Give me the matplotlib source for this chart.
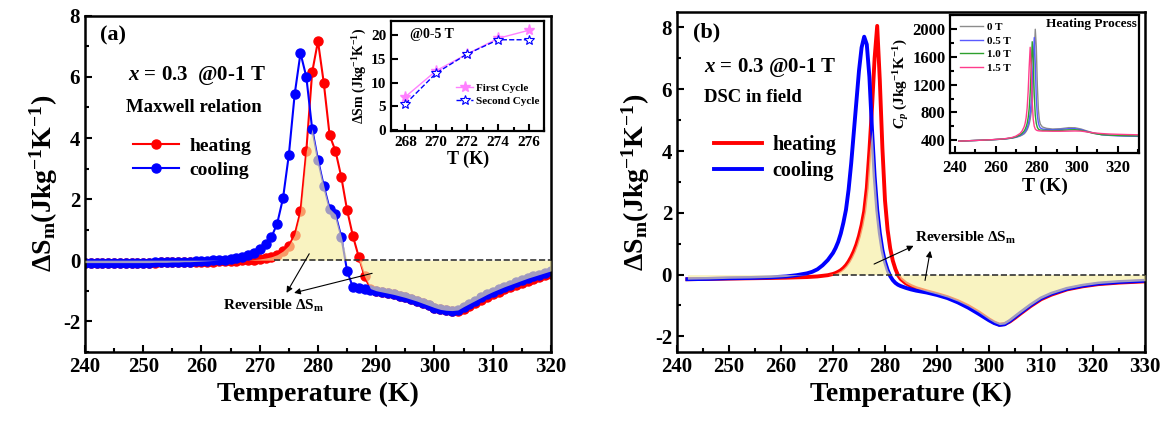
import numpy as np
import matplotlib
matplotlib.use("Agg")
import matplotlib.pyplot as plt
from matplotlib.ticker import MultipleLocator

plt.rcParams["font.family"] = "Liberation Serif"
plt.rcParams["font.weight"] = "bold"
plt.rcParams["axes.unicode_minus"] = False
plt.rcParams["mathtext.fontset"] = "custom"
plt.rcParams["mathtext.rm"] = "Liberation Serif:bold"
plt.rcParams["mathtext.it"] = "Liberation Serif:italic:bold"
plt.rcParams["mathtext.bf"] = "Liberation Serif:bold"

# ---- panel (a): Maxwell relation, 1 K steps ----
T_a = [240, 241, 242, 243, 244, 245, 246, 247, 248, 249,
       250, 251, 252, 253, 254, 255, 256, 257, 258, 259,
       260, 261, 262, 263, 264, 265, 266, 267, 268, 269,
       270, 271, 272, 273, 274, 275, 276, 277, 278, 279,
       280, 281, 282, 283, 284, 285, 286, 287, 288, 289,
       290, 291, 292, 293, 294, 295, 296, 297, 298, 299,
       300, 301, 302, 303, 304, 305, 306, 307, 308, 309,
       310, 311, 312, 313, 314, 315, 316, 317, 318, 319,
       320]
heat_a = [-0.08, -0.08, -0.08, -0.08, -0.08, -0.08, -0.08, -0.08, -0.08, -0.08,
          -0.08, -0.08, -0.08, -0.07, -0.07, -0.07, -0.07, -0.07, -0.06, -0.06,
          -0.06, -0.05, -0.05, -0.04, -0.04, -0.03, -0.02, -0.01, 0.00, 0.02,
          0.04, 0.07, 0.11, 0.18, 0.30, 0.48, 0.83, 1.60, 3.58, 6.15,
          7.17, 5.80, 4.09, 3.58, 2.73, 1.64, 0.79, 0.11, -0.53, -0.93,
          -1.00, -1.04, -1.08, -1.12, -1.17, -1.22, -1.28, -1.34, -1.41, -1.48,
          -1.55, -1.61, -1.64, -1.66, -1.67, -1.60, -1.50, -1.40, -1.30, -1.20,
          -1.11, -1.03, -0.95, -0.88, -0.81, -0.74, -0.67, -0.61, -0.55, -0.50,
          -0.45]
cool_a = [-0.08, -0.08, -0.08, -0.08, -0.08, -0.08, -0.08, -0.08, -0.08, -0.08,
          -0.08, -0.08, -0.07, -0.07, -0.07, -0.06, -0.06, -0.05, -0.05, -0.04,
          -0.03, -0.02, -0.01, 0.00, 0.02, 0.04, 0.07, 0.11, 0.17, 0.25,
          0.36, 0.52, 0.75, 1.20, 2.03, 3.45, 5.43, 6.78, 6.00, 4.30,
          3.29, 2.43, 1.69, 1.50, 0.77, -0.35, -0.89, -0.92, -0.95, -0.98,
          -1.00, -1.04, -1.08, -1.12, -1.17, -1.22, -1.28, -1.34, -1.41, -1.48,
          -1.55, -1.61, -1.64, -1.65, -1.63, -1.52, -1.42, -1.32, -1.22, -1.12,
          -1.03, -0.95, -0.87, -0.80, -0.73, -0.66, -0.59, -0.53, -0.47, -0.41,
          -0.35]

# inset (a): 0-5 T, two cycles
T_cyc = [268, 270, 272, 274, 276]
first_cycle = [7.0, 12.5, 16.0, 19.3, 21.0]
second_cycle = [5.5, 12.0, 16.0, 19.0, 19.0]

# ---- panel (b): DSC in field ----
T_b = [242, 246, 250, 254, 258, 261, 263, 265, 266, 267,
       268, 269, 270, 270.5, 271, 271.5, 272, 272.5, 273, 273.5,
       274, 274.5, 275, 275.5, 276, 276.5, 277, 277.5, 278, 278.5,
       279, 279.5, 280, 280.5, 281, 281.5, 282, 282.5, 283, 284,
       285, 286, 288, 290, 292, 294, 296, 298, 300, 301,
       302, 303, 304, 305, 306, 308, 310, 312, 315, 318,
       321, 325, 330]
heat_b = [-0.15, -0.14, -0.13, -0.12, -0.11, -0.10, -0.09, -0.08, -0.07, -0.06,
          -0.04, -0.02, 0.02, 0.05, 0.09, 0.14, 0.21, 0.30, 0.42, 0.57,
          0.75, 0.97, 1.25, 1.60, 2.05, 2.80, 4.00, 5.40, 7.00, 8.05,
          6.30, 4.10, 2.40, 1.45, 0.85, 0.45, 0.18, -0.02, -0.14, -0.28,
          -0.37, -0.44, -0.54, -0.63, -0.73, -0.86, -1.02, -1.22, -1.45, -1.55,
          -1.62, -1.60, -1.52, -1.40, -1.27, -1.02, -0.80, -0.65, -0.48, -0.38,
          -0.31, -0.26, -0.22]
cool_b = [-0.15, -0.14, -0.12, -0.11, -0.09, -0.06, -0.02, 0.04, 0.09, 0.17,
          0.30, 0.47, 0.70, 0.86, 1.06, 1.33, 1.68, 2.10, 2.75, 3.60,
          4.60, 5.60, 6.60, 7.35, 7.70, 7.45, 6.40, 4.70, 3.20, 2.10,
          1.35, 0.80, 0.42, 0.15, -0.05, -0.18, -0.27, -0.33, -0.37, -0.43,
          -0.48, -0.52, -0.58, -0.66, -0.76, -0.90, -1.07, -1.27, -1.48, -1.57,
          -1.63, -1.61, -1.50, -1.37, -1.24, -0.99, -0.77, -0.62, -0.46, -0.36,
          -0.29, -0.24, -0.20]

# inset (b): Cp, heating process
T_cp = [242, 250, 258, 264, 268, 270, 272, 273, 274, 274.5,
        275, 275.5, 276, 276.5, 277, 277.5, 278, 278.5, 279, 279.5,
        280, 280.5, 281, 281.5, 282, 283, 285, 288, 292, 296,
        299, 302, 305, 308, 312, 316, 320, 325, 331]
cp_0T = [385, 395, 405, 415, 428, 440, 458, 472, 490, 505,
         525, 550, 585, 630, 700, 800, 960, 1250, 1650, 2000,
         1750, 1200, 850, 690, 630, 590, 570, 560, 565, 580,
         578, 560, 530, 505, 480, 470, 465, 460, 455]
cp_05T = [385, 395, 405, 415, 430, 443, 465, 482, 505, 522,
          545, 575, 620, 690, 790, 950, 1200, 1560, 1880, 1500,
          1000, 760, 650, 600, 575, 560, 555, 550, 555, 565,
          565, 550, 525, 500, 478, 468, 463, 458, 453]
cp_10T = [385, 395, 405, 416, 432, 448, 475, 498, 530, 555,
          590, 640, 720, 850, 1080, 1450, 1820, 1550, 1050, 760,
          640, 585, 560, 550, 545, 542, 540, 538, 540, 548,
          550, 540, 520, 498, 480, 472, 468, 464, 460]
cp_15T = [385, 395, 406, 418, 437, 458, 495, 530, 590, 640,
          720, 860, 1100, 1450, 1740, 1450, 950, 700, 600, 560,
          545, 538, 535, 533, 532, 530, 530, 528, 528, 530,
          532, 530, 518, 505, 495, 488, 484, 480, 476]
cp_labels = ["0 T", "0.5 T", "1.0 T", "1.5 T"]
cp_colors = ["#8c8c8c", "#5a5aff", "#2ea02e", "#ff3c8c"]
cp_xticks = [240, 260, 280, 300, 320]
cp_yticks = [400, 800, 1200, 1600, 2000]

FILL = "#f7eea0"


def reversible(h, c):
    # overlap of heating and cooling curves (same sign, smaller magnitude)
    h = np.asarray(h)
    c = np.asarray(c)
    same = h * c > 0
    return np.where(same, np.sign(h) * np.minimum(np.abs(h), np.abs(c)), 0.0)


def style_axis(ax, fs):
    for s in ax.spines.values():
        s.set_linewidth(1.8)
    ax.tick_params(which="both", direction="in", top=False, right=False,
                   labelsize=fs, width=1.5)
    ax.tick_params(which="major", length=5)
    ax.tick_params(which="minor", length=3)


fig = plt.figure(figsize=(11.66, 4.28), dpi=100)

# ================= panel (a) =================
ax = fig.add_axes([0.0729, 0.178, 0.3996, 0.785])
ax.plot(T_a, heat_a, "-o", color="red", lw=1.5, ms=6.5, label="heating", zorder=2)
ax.plot(T_a, cool_a, "-o", color="blue", lw=1.5, ms=6.5, label="cooling", zorder=2)
rev_a = reversible(heat_a, cool_a)
ax.fill_between(T_a, 0, rev_a, color=FILL, alpha=0.65, lw=0, zorder=3)
ax.plot([272.5, 320], [0, 0], "--", color="#333333", lw=1.2, zorder=4)
ax.set_xlim(240, 320)
ax.set_ylim(-3, 8)
ax.xaxis.set_major_locator(MultipleLocator(10))
ax.xaxis.set_minor_locator(MultipleLocator(5))
ax.yaxis.set_major_locator(MultipleLocator(2))
ax.yaxis.set_minor_locator(MultipleLocator(1))
style_axis(ax, 15)
ax.set_xlabel("Temperature (K)", fontsize=20, fontweight="bold")
ax.set_ylabel("ΔS$_\\mathrm{m}$(Jkg$^{\\mathrm{-1}}$K$^{\\mathrm{-1}}$)",
              fontsize=20, fontweight="bold", labelpad=2)
ax.text(0.032, 0.943, "(a)", transform=ax.transAxes, fontsize=16,
        va="center", ha="left")
ax.text(0.093, 0.821, "$\\mathit{x}$ = 0.3  @0-1 T", transform=ax.transAxes,
        fontsize=15, va="center", ha="left")
ax.text(0.089, 0.726, "Maxwell relation", transform=ax.transAxes,
        fontsize=13.5, va="center", ha="left")
ax.legend(loc="upper left", bbox_to_anchor=(0.065, 0.69), frameon=False,
          prop={"size": 14, "weight": "bold"}, handlelength=2.4,
          labelspacing=0.3, handletextpad=0.5)
ax.text(272.4, -1.5, "Reversible ΔS$_\\mathrm{m}$", fontsize=11,
        ha="center", va="center", zorder=5)
for tail, head in [((278.5, 0.21), (274.6, -1.07)),
                   ((289.3, -0.43), (275.9, -1.07))]:
    ax.annotate("", xy=head, xytext=tail, zorder=5,
                arrowprops=dict(arrowstyle="-|>", color="black", lw=0.8,
                                mutation_scale=9, shrinkA=0, shrinkB=0))

# inset (a)
ins = ax.inset_axes([0.657, 0.657, 0.329, 0.327])
ins.plot(T_cyc, first_cycle, "-*", color="#ff80ff", lw=1.0, ms=8,
         label="First Cycle")
ins.plot(T_cyc, second_cycle, "--*", color="blue", lw=1.0, ms=7,
         markerfacecolor="white", markeredgewidth=0.8, label="Second Cycle")
ins.set_xlim(267.08, 277.0)
ins.set_ylim(-0.2, 22.9)
ins.set_xticks(T_cyc)
ins.xaxis.set_minor_locator(MultipleLocator(1))
ins.set_yticks([0, 5, 10, 15, 20])
style_axis(ins, 11)
for s in ins.spines.values():
    s.set_linewidth(1.6)
ins.set_xlabel("T (K)", fontsize=13, fontweight="bold", labelpad=1)
ins.set_ylabel("ΔSm (Jkg$^{\\mathrm{-1}}$K$^{\\mathrm{-1}}$)", fontsize=10,
               fontweight="bold", labelpad=1)
ins.text(0.12, 0.875, "@0-5 T", transform=ins.transAxes, fontsize=10,
         va="center", ha="left")
ins.legend(loc="center right", bbox_to_anchor=(1.03, 0.33), frameon=False,
           prop={"size": 8, "weight": "bold"}, handlelength=1.6,
           labelspacing=0.3, handletextpad=0.2)

# ================= panel (b) =================
bx = fig.add_axes([0.5806, 0.178, 0.4014, 0.794])
bx.plot(T_b, heat_b, "-", color="red", lw=2.8, label="heating", zorder=2)
bx.plot(T_b, cool_b, "-", color="blue", lw=2.8, label="cooling", zorder=2)
rev_b = reversible(heat_b, cool_b)
bx.fill_between(T_b, 0, rev_b, color=FILL, alpha=0.65, lw=0, zorder=3)
bx.plot([270, 330], [0, 0], "--", color="#333333", lw=1.2, zorder=4)
bx.set_xlim(240, 330)
bx.set_ylim(-2.5, 8.5)
bx.xaxis.set_major_locator(MultipleLocator(10))
bx.xaxis.set_minor_locator(MultipleLocator(5))
bx.yaxis.set_major_locator(MultipleLocator(2))
bx.yaxis.set_minor_locator(MultipleLocator(1))
style_axis(bx, 15)
bx.set_xlabel("Temperature (K)", fontsize=20, fontweight="bold")
bx.set_ylabel("ΔS$_\\mathrm{m}$(Jkg$^{\\mathrm{-1}}$K$^{\\mathrm{-1}}$)",
              fontsize=20, fontweight="bold", labelpad=2)
bx.text(0.034, 0.94, "(b)", transform=bx.transAxes, fontsize=16,
        va="center", ha="left")
bx.text(0.058, 0.837, "$\\mathit{x}$ = 0.3 @0-1 T", transform=bx.transAxes,
        fontsize=15, va="center", ha="left")
bx.text(0.058, 0.748, "DSC in field", transform=bx.transAxes,
        fontsize=13.5, va="center", ha="left")
bx.legend(loc="upper left", bbox_to_anchor=(0.04, 0.69), frameon=False,
          prop={"size": 14.5, "weight": "bold"}, handlelength=2.4,
          labelspacing=0.3, handletextpad=0.5)
bx.text(285.7, 1.2, "Reversible ΔS$_\\mathrm{m}$", fontsize=11,
        ha="left", va="center", zorder=5)
for tail, head in [((277.9, 0.34), (285.5, 0.93)),
                   ((287.7, -0.19), (288.7, 0.77))]:
    bx.annotate("", xy=head, xytext=tail, zorder=5,
                arrowprops=dict(arrowstyle="-|>", color="black", lw=0.8,
                                mutation_scale=9, shrinkA=0, shrinkB=0))

# inset (b)
ins2 = bx.inset_axes([0.584, 0.584, 0.404, 0.407])
for vals, lab, col in zip([cp_0T, cp_05T, cp_10T, cp_15T], cp_labels, cp_colors):
    ins2.plot(T_cp, vals, "-", color=col, lw=1.0, label=lab)
ins2.set_xlim(237.8, 330.6)
ins2.set_ylim(209, 2205)
ins2.set_xticks(cp_xticks)
ins2.xaxis.set_minor_locator(MultipleLocator(10))
ins2.set_yticks(cp_yticks)
ins2.yaxis.set_minor_locator(MultipleLocator(200))
style_axis(ins2, 12)
ins2.tick_params(axis="x", pad=5)
for s in ins2.spines.values():
    s.set_linewidth(1.6)
ins2.set_xlabel("T (K)", fontsize=14, fontweight="bold", labelpad=1)
ins2.set_ylabel("$C_p$ (Jkg$^{\\mathrm{-1}}$K$^{\\mathrm{-1}}$)", fontsize=11,
                fontweight="bold", labelpad=1)
ins2.text(0.985, 0.933, "Heating Process", transform=ins2.transAxes,
          fontsize=9.5, va="center", ha="right")
ins2.legend(loc="upper left", bbox_to_anchor=(0.0, 1.02), frameon=False,
            prop={"size": 8, "weight": "bold"}, handlelength=2.0,
            labelspacing=0.35, handletextpad=0.4)

fig.savefig("out.png", dpi=100)
